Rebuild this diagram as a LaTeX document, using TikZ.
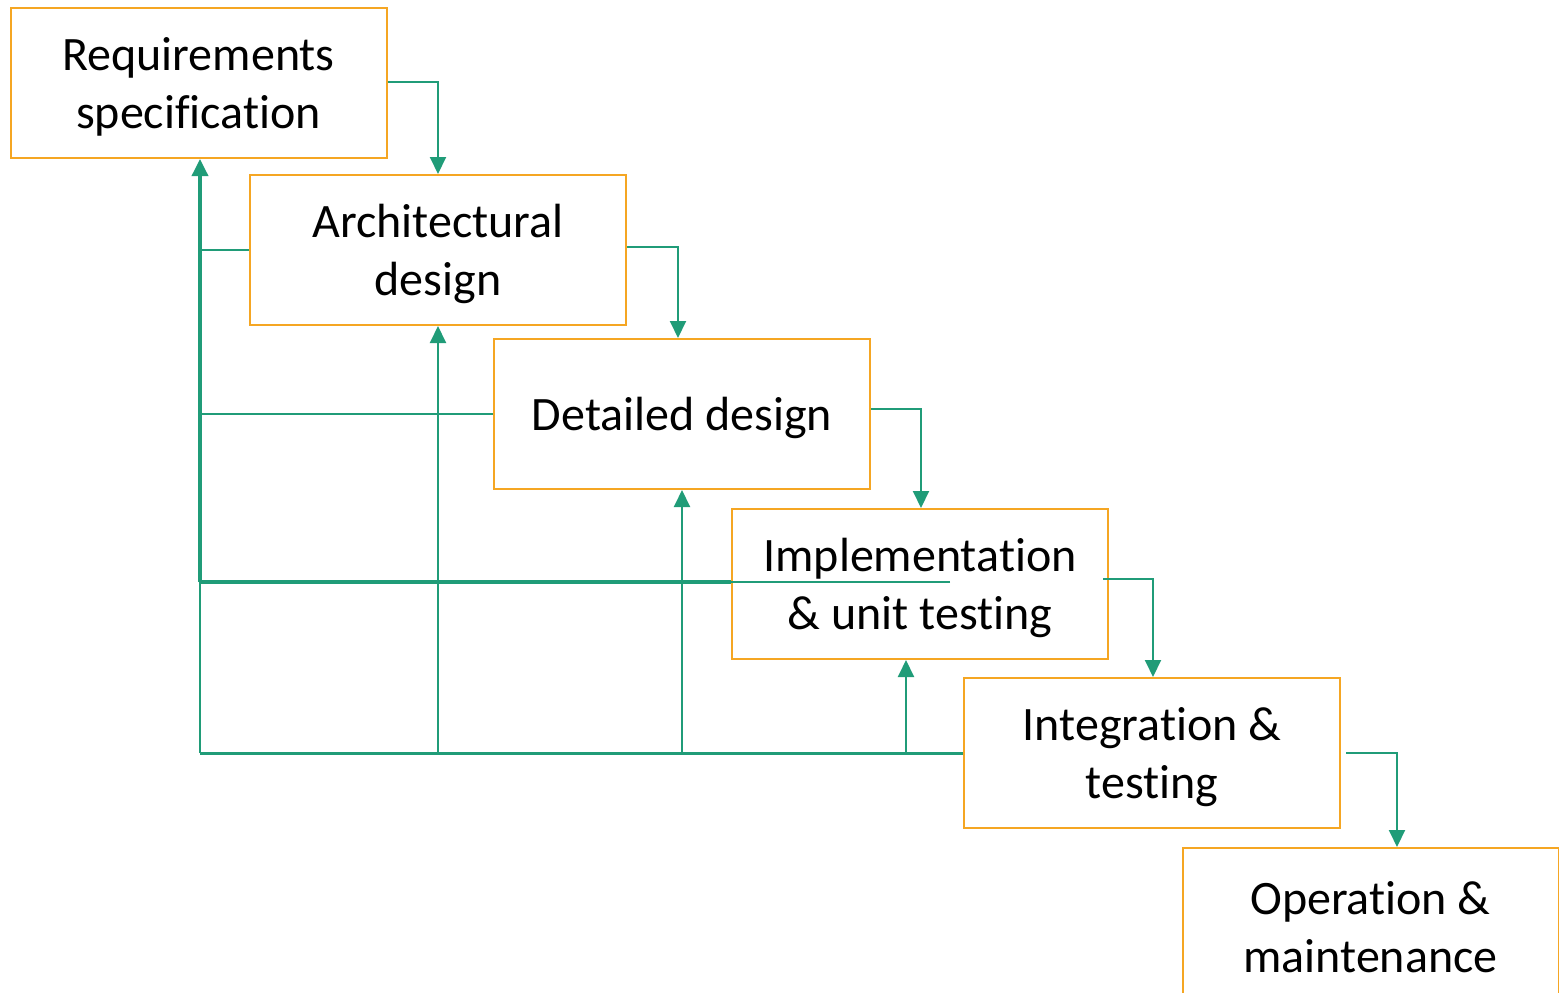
\documentclass[tikz,border=0pt]{standalone}
\usepackage{fontspec}
\setmainfont[Ligatures=NoCommon]{Carlito}
\usetikzlibrary{arrows.meta}
\definecolor{boxorange}{RGB}{245,166,35}
\definecolor{flowgreen}{RGB}{32,156,120}
\begin{document}
\begin{tikzpicture}[x=1pt,y=-1pt,
  phase/.style={draw=boxorange,line width=2pt,minimum width=376pt,minimum height=150pt,inner sep=0pt},
  phasetxt/.style={align=center,inner sep=0pt,font=\fontsize{48pt}{58pt}\selectfont},
  flow/.style={draw=flowgreen,line width=2pt,-{Triangle[width=16pt,length=17pt]}},
  fb/.style={draw=flowgreen,line width=2pt},
  fbthick/.style={draw=flowgreen,line width=3.5pt}]
\clip (0,0) rectangle (1559,993);
\fill[white] (0,0) rectangle (1559,993);
\node[phase] (req) at (198.5,83) {};
\node[phase] (arch) at (438,250) {};
\node[phase] (det) at (682,414) {};
\node[phase] (impl) at (920,584) {};
\node[phase] (integ) at (1152,753) {};
\node[phase] (op) at (1370.5,923) {};
\node[phasetxt] (reqtxt) at ([yshift=-4pt]req.center) {Requirements\\specification};
\node[phasetxt] (archtxt) at ([yshift=-4pt]arch.center) {Architectural\\design};
\node[phasetxt] (dettxt) at ([yshift=-4pt]det.center) {Detailed design};
\node[phasetxt] (impltxt) at ([yshift=-4pt]impl.center) {Implementation\\\&~unit testing};
\node[phasetxt] (integtxt) at ([yshift=-4pt]integ.center) {Integration \&\\testing};
\node[phasetxt] (optxt) at ([yshift=-4pt]op.center) {Operation \&\\maintenance};
% forward flow
\draw[flow] ([yshift=1pt]req.east) -| (arch.north);
\draw[flow] ([yshift=3pt]arch.east) -| ([xshift=-4pt]det.north);
\draw[flow] ([yshift=5pt]det.east) -| ([xshift=1pt]impl.north);
\draw[flow] ([xshift=-6pt,yshift=5pt]impl.east) -| ([xshift=1pt]integ.north);
\draw[flow] ([xshift=5pt]integ.east) -| ([xshift=26.5pt]op.north);
% feedback
\coordinate (spine) at (200,582);
\coordinate (corner) at (200,753);
\coordinate (implin) at (950,582);
\draw[fbthick,-{Triangle[width=16pt,length=17pt]}] (spine) -- (spine |- req.south);
\draw[fb] (arch.west) -- (arch.west -| spine);
\draw[fb] (det.west) -- (det.west -| spine);
\draw[fb] (implin) -- (implin -| impl.west);
\draw[fbthick] (implin -| impl.west) -- (spine);
\draw[fb] (corner) -- (spine);
\draw[draw=flowgreen,line width=3pt] (integ.west) -- (corner);
\draw[flow] (integ.west -| arch.south) -- (arch.south);
\draw[flow] (integ.west -| det.south) -- (det.south);
\draw[flow] ([xshift=-14pt]integ.west -| impl.south) -- ([xshift=-14pt]impl.south);
\end{tikzpicture}
\end{document}
